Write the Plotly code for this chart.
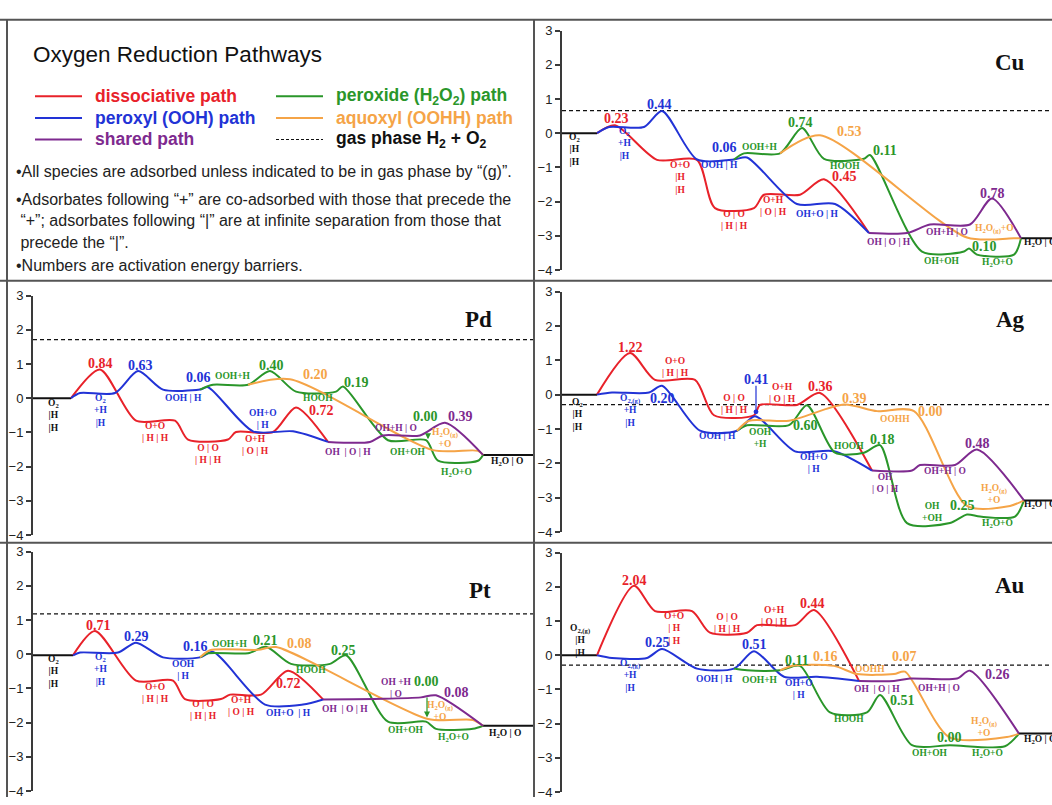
import plotly.graph_objects as go

W, H = 1052, 805

COL = dict(r="#e8222a", b="#2233d6", g="#2a962a", o="#f5a447", p="#7e2a8f", k="#111111")

# ---------------- data: [reaction coordinate, energy (eV)] ----------------
# Cu
CU_START = [[0, 0], [35, 0]]
CU_RED = [[35, 0], [53, 0.23], [95, -0.78], [135, -0.78], [153, -2.19], [192, -2.19],
          [202, -1.80], [238, -1.80], [262, -1.35], [307, -2.92]]
CU_BLUE = [[35, 0], [47, 0.18], [82, 0.18], [100, 0.65], [135, -0.77], [172, -0.77],
           [185, -0.71], [235, -2.07], [273, -2.07], [307, -2.92]]
CU_GREEN = [[172, -0.77], [182, -0.59], [218, -0.59], [240, 0.15], [262, -0.75], [302, -0.75],
            [308, -0.64], [360, -3.46], [402, -3.46], [407, -3.37], [415, -3.55], [452, -3.55],
            [459, -3.07]]
CU_ORANGE = [[218, -0.59], [258, -0.06], [405, -3.05], [452, -3.07], [459, -3.07]]
CU_PURPLE = [[307, -2.92], [345, -2.92], [368, -2.67], [408, -2.67], [430, -1.91], [459, -3.07]]
CU_END = [[459, -3.07], [490, -3.07]]
CU_GAS = 0.66

# Pd
PD_START = [[0, 0], [38, 0]]
PD_RED = [[38, 0], [67, 0.84], [103, -0.66], [142, -0.66], [155, -1.21], [195, -1.21],
          [203, -0.99], [240, -0.99], [263, -0.27], [295, -1.28]]
PD_BLUE = [[38, 0], [47, 0.15], [82, 0.15], [105, 0.79], [130, 0.25], [167, 0.25],
           [175, 0.32], [220, -0.97], [260, -0.97], [295, -1.28]]
PD_GREEN = [[167, 0.25], [180, 0.39], [215, 0.39], [237, 0.79], [263, 0.19], [303, 0.19],
            [310, 0.34], [355, -1.23], [393, -1.23], [405, -1.83], [445, -1.83], [450, -1.66]]
PD_ORANGE = [[215, 0.39], [257, 0.55], [400, -1.52], [445, -1.54], [450, -1.66]]
PD_PURPLE = [[295, -1.28], [337, -1.28], [350, -1.09], [387, -1.09], [412, -0.72], [450, -1.66]]
PD_END = [[450, -1.66], [501, -1.66]]
PD_GAS = 1.71

# Ag
AG_START = [[0, 0], [35, 0]]
AG_RED = [[35, 0], [68, 1.21], [93, 0.43], [133, 0.43], [152, -0.60], [192, -0.60],
          [198, -0.30], [235, -0.30], [258, 0.05], [310, -2.21]]
AG_BLUE = [[35, 0], [50, 0.06], [87, 0.06], [100, 0.26], [138, -1.05], [175, -1.05],
           [193, -0.63], [233, -1.65], [272, -1.65], [310, -2.21]]
AG_GREEN = [[175, -1.05], [185, -0.89], [227, -0.89], [245, -0.31], [273, -1.69], [302, -1.69],
            [318, -1.47], [345, -3.74], [388, -3.74], [405, -3.49], [418, -3.55], [453, -3.55],
            [462, -3.08]]
AG_ORANGE = [[175, -1.05], [187, -0.76], [227, -0.76], [282, -0.29], [315, -0.48], [352, -0.48],
             [405, -3.24], [448, -3.24], [462, -3.08]]
AG_PURPLE = [[310, -2.21], [350, -2.21], [358, -2.05], [393, -2.05], [415, -1.60], [462, -3.08]]
AG_END = [[462, -3.08], [490, -3.08]]
AG_GAS = -0.29

# Pt
PT_START = [[0, -0.03], [40, -0.03]]
PT_RED = [[40, -0.03], [62, 0.68], [103, -0.77], [140, -0.77], [152, -1.31], [188, -1.31],
          [197, -1.18], [228, -1.18], [255, -0.48], [290, -1.32]]
PT_BLUE = [[40, -0.03], [47, 0.05], [85, 0.05], [103, 0.34], [130, -0.09], [167, -0.09],
           [180, 0.07], [232, -1.47], [270, -1.47], [290, -1.32]]
PT_GREEN = [[167, -0.09], [175, 0.03], [215, 0.03], [233, 0.22], [258, -0.28], [297, -0.28],
            [313, -0.03], [355, -1.97], [393, -1.97], [403, -2.18], [440, -2.18], [450, -2.09]]
PT_ORANGE = [[167, -0.09], [177, 0.12], [225, 0.13], [243, 0.21], [395, -1.89], [440, -1.92],
             [450, -2.09]]
PT_PURPLE = [[290, -1.32], [350, -1.30], [388, -1.26], [403, -1.20], [450, -2.09]]
PT_END = [[450, -2.09], [501, -2.09]]
PT_GAS = 1.18

# Au
AU_START = [[0, 0], [35, 0]]
AU_RED = [[35, 0], [72, 2.03], [93, 1.29], [130, 1.29], [148, 0.66], [185, 0.66],
          [195, 0.88], [233, 0.88], [252, 1.32], [297, -0.75]]
AU_BLUE = [[35, 0], [50, -0.08], [85, -0.08], [100, 0.18], [135, -0.39], [172, -0.39],
           [192, 0.12], [222, -0.63], [255, -0.63], [297, -0.75]]
AU_GREEN = [[172, -0.39], [185, -0.44], [218, -0.44], [238, -0.31], [268, -1.67], [305, -1.67],
            [318, -1.16], [350, -2.63], [388, -2.63], [443, -2.66], [457, -2.29]]
AU_ORANGE = [[218, -0.44], [232, -0.30], [272, -0.31], [295, -0.55], [332, -0.55], [343, -0.48],
             [387, -2.39], [445, -2.39], [457, -2.29]]
AU_PURPLE = [[297, -0.75], [332, -0.75], [348, -0.68], [395, -0.68], [408, -0.45], [457, -2.29]]
AU_END = [[457, -2.29], [490, -2.29]]
AU_GAS = -0.29

# ---------------- labels: [text, x, energy, colour] ----------------
S2 = "O<sub>2</sub>"
S2G = "O<sub>2,(g)</sub>"
H2O = "H<sub>2</sub>O"
H2OG = "H<sub>2</sub>O<sub>(g)</sub>"

CU_LABELS = [
    [S2 + "<br>|H<br>|H", 12, -0.47, "k"], ["0.23", 54, 0.42, "r"],
    [S2 + "<br>+H<br>|H", 62, -0.30, "b"], ["0.44", 97, 0.84, "b"],
    ["O+O<br>|H<br>|H", 118, -1.30, "r"], ["OOH | H", 157, -0.93, "b"],
    ["0.06", 162, -0.42, "b"], ["OOH+H", 198, -0.40, "g"], ["0.74", 238, 0.32, "g"],
    ["0.53", 287, 0.04, "o"], ["HOOH", 283, -0.95, "g"], ["0.11", 323, -0.52, "g"],
    ["O | O<br>| H | H", 172, -2.55, "r"], ["O+H<br>| O | H", 211, -2.13, "r"],
    ["0.45", 282, -1.28, "r"], ["OH+O | H", 255, -2.35, "b"], ["OH | O | H", 327, -3.17, "p"],
    ["OH+H | O", 385, -2.90, "p"], [H2OG + "+O", 432, -2.80, "o"], ["0.78", 430, -1.76, "p"],
    ["0.10", 422, -3.30, "g"], ["OH+OH", 380, -3.74, "g"], [H2O + "+O", 435, -3.78, "g"],
    [H2O + " | O", 478, -3.20, "k"],
]
PD_LABELS = [
    [S2 + "<br>|H<br>|H", 20, -0.52, "k"], ["0.84", 67, 1.01, "r"],
    [S2 + "<br>+H<br>|H", 67, -0.37, "b"], ["0.63", 107, 0.96, "b"], ["0.06", 165, 0.60, "b"],
    ["OOH | H", 150, 0.00, "b"], ["OOH+H", 200, 0.65, "g"], ["0.40", 238, 0.96, "g"],
    ["0.20", 282, 0.70, "o"], ["0.19", 323, 0.46, "g"], ["HOOH", 285, 0.00, "g"],
    ["O+O<br>| H | H", 122, -1.00, "r"], ["O | O<br>| H | H", 175, -1.62, "r"],
    ["O+H<br>| O | H", 222, -1.38, "r"], ["OH+O<br>| H", 230, -0.62, "b"],
    ["0.72", 288, -0.37, "r"], ["OH  | O | H", 315, -1.57, "p"], ["OH+H | O", 363, -0.87, "p"],
    ["0.00", 392, -0.53, "g"], ["0.39", 427, -0.53, "p"], [H2OG + "<br>+O", 412, -1.17, "o"],
    ["OH+OH", 375, -1.57, "g"], [H2O + "+O", 423, -2.16, "g"], [H2O + " | O", 474, -1.85, "k"],
]
AG_LABELS = [
    [S2 + "<br>|H<br>|H", 15, -0.58, "k"], ["1.22", 68, 1.38, "r"],
    ["O+O<br>| H | H", 113, 0.80, "r"], [S2G + "<br>+H<br>|H", 68, -0.45, "b"],
    ["0.20", 100, -0.12, "b"], ["OOH | H", 155, -1.19, "b"], ["O | O<br>| H | H", 172, -0.27, "r"],
    ["0.41", 194, 0.45, "b"], ["O+H<br>| O | H", 220, 0.04, "r"], ["0.36", 258, 0.24, "r"],
    ["0.39", 292, -0.11, "o"], ["0.00", 368, -0.48, "o"], ["OOHH", 333, -0.71, "o"],
    ["OOH<br>+H", 198, -1.27, "g"], ["0.60", 243, -0.89, "g"], ["HOOH", 287, -1.50, "g"],
    ["0.18", 320, -1.30, "g"], ["OH+O<br>| H", 252, -2.00, "b"], ["OH<br>| O | H", 323, -2.57, "p"],
    ["OH+H | O", 383, -2.22, "p"], ["0.48", 415, -1.43, "p"], [H2OG + "<br>+O", 432, -2.90, "o"],
    ["OH<br>+OH", 370, -3.43, "g"], ["0.25", 400, -3.24, "g"], [H2O + "+O", 435, -3.76, "g"],
    [H2O + " | O", 478, -3.19, "k"],
]
PT_LABELS = [
    [S2 + "<br>|H<br>|H", 20, -0.50, "k"], ["0.71", 65, 0.83, "r"],
    [S2 + "<br>+H<br>|H", 67, -0.45, "b"], ["0.29", 103, 0.52, "b"], ["OOH<br>| H", 150, -0.47, "b"],
    ["0.16", 162, 0.23, "b"], ["OOH+H", 197, 0.30, "g"], ["0.21", 232, 0.39, "g"],
    ["0.08", 266, 0.32, "o"], ["HOOH", 278, -0.47, "g"], ["0.25", 310, 0.10, "g"],
    ["O+O<br>| H | H", 122, -1.13, "r"], ["O | O<br>| H | H", 170, -1.64, "r"],
    ["O+H<br>| O | H", 208, -1.52, "r"], ["0.72", 255, -0.84, "r"], ["OH+O  | H", 255, -1.71, "b"],
    ["OH  | O | H", 312, -1.60, "p"], ["OH +H<br>| O", 363, -1.00, "p"], ["0.00", 393, -0.79, "g"],
    ["0.08", 423, -1.11, "p"], [H2OG + "<br>+O", 407, -1.65, "o"], ["OH+OH", 373, -2.21, "g"],
    [H2O + "+O", 420, -2.42, "g"], [H2O + " | O", 472, -2.33, "k"],
]
AU_LABELS = [
    [S2G + "<br>|H<br>|H", 18, 0.43, "k"], ["2.04", 72, 2.19, "r"],
    ["O+O<br>| H<br>| H", 112, 0.77, "r"], ["0.25", 95, 0.38, "b"],
    [S2G + "<br>+H<br>|H", 68, -0.60, "b"], ["O | O<br>| H | H", 165, 0.95, "r"],
    ["O+H<br>| O | H", 212, 1.15, "r"], ["0.44", 250, 1.50, "r"], ["0.51", 192, 0.31, "b"],
    ["OOH | H", 152, -0.68, "b"], ["OOH+H", 198, -0.73, "g"], ["0.11", 235, -0.15, "g"],
    ["0.16", 263, -0.03, "o"], ["0.07", 342, -0.03, "o"], ["OOHH", 308, -0.41, "o"],
    ["OH+O<br>| H", 237, -1.00, "b"], ["OH  | O | H", 315, -0.98, "p"], ["OH+H | O", 377, -0.96, "p"],
    ["0.26", 435, -0.55, "p"], ["0.51", 340, -1.32, "g"], ["HOOH", 287, -1.85, "g"],
    [H2OG + "<br>+O", 422, -2.10, "o"], ["0.00", 387, -2.39, "g"], ["OH+OH", 368, -2.85, "g"],
    [H2O + "+O", 425, -2.87, "g"], [H2O + " | O", 478, -2.47, "k"],
]

TITLES = {"Cu": [448, 2.06], "Pd": [445, 2.30], "Ag": [448, 2.19], "Pt": [447, 1.85], "Au": [448, 2.03]}

# pointer marks: [x, E_tail, E_head, colour, head style]
PD_POINTERS = [[395, -1.02, -1.20, "g", 2]]
AG_POINTERS = [[194, 0.30, -0.50, "b", 6]]
PT_POINTERS = [[394, -1.22, -1.85, "g", 2]]

PANELS = [
    # name, axis index, px x0, px x1, px ytop, px ybot, xmax, data
    ("Cu", 1, 562, 1052, 24, 268, 490,
     dict(start=CU_START, r=CU_RED, b=CU_BLUE, g=CU_GREEN, o=CU_ORANGE, p=CU_PURPLE, end=CU_END,
          gas=CU_GAS, labels=CU_LABELS, pointers=[])),
    ("Pd", 2, 33, 534, 294, 538, 501,
     dict(start=PD_START, r=PD_RED, b=PD_BLUE, g=PD_GREEN, o=PD_ORANGE, p=PD_PURPLE, end=PD_END,
          gas=PD_GAS, labels=PD_LABELS, pointers=PD_POINTERS)),
    ("Ag", 3, 562, 1052, 290, 535, 490,
     dict(start=AG_START, r=AG_RED, b=AG_BLUE, g=AG_GREEN, o=AG_ORANGE, p=AG_PURPLE, end=AG_END,
          gas=AG_GAS, labels=AG_LABELS, pointers=AG_POINTERS)),
    ("Pt", 4, 33, 534, 555, 799, 501,
     dict(start=PT_START, r=PT_RED, b=PT_BLUE, g=PT_GREEN, o=PT_ORANGE, p=PT_PURPLE, end=PT_END,
          gas=PT_GAS, labels=PT_LABELS, pointers=PT_POINTERS)),
    ("Au", 5, 562, 1052, 556, 800, 490,
     dict(start=AU_START, r=AU_RED, b=AU_BLUE, g=AU_GREEN, o=AU_ORANGE, p=AU_PURPLE, end=AU_END,
          gas=AU_GAS, labels=AU_LABELS, pointers=[])),
]

SERIF = "Liberation Serif, Times New Roman, serif"
SANS = "Liberation Sans, Arial, sans-serif"


def px(xp):
    return xp / W


def py(yp):
    return 1 - yp / H


fig = go.Figure()
annotations = []
shapes = []
layout_axes = {}

for name, i, x0, x1, yt, yb, xmax, d in PANELS:
    sfx = "" if i == 1 else str(i)
    xa, ya = "x" + sfx, "y" + sfx
    layout_axes["xaxis" + sfx] = dict(domain=[px(x0), px(x1)], range=[0, xmax], visible=False,
                                      anchor=ya, fixedrange=True)
    layout_axes["yaxis" + sfx] = dict(domain=[py(yb), py(yt)], range=[-4, 3], anchor=xa,
                                      tickvals=[-4, -3, -2, -1, 0, 1, 2, 3],
                                      showline=True, linewidth=2, linecolor="#3a3a3a",
                                      ticks="outside", ticklen=5, tickwidth=1.5, tickcolor="#3a3a3a",
                                      showgrid=False, zeroline=False,
                                      tickfont=dict(family=SANS, size=13, color="#222"),
                                      fixedrange=True)
    # gas-phase reference
    fig.add_trace(go.Scatter(x=[0, xmax], y=[d["gas"], d["gas"]], mode="lines",
                             line=dict(color="#111", width=1.3, dash="4px,3px"),
                             xaxis=xa, yaxis=ya, hoverinfo="skip", showlegend=False))
    for key in ["start", "end"]:
        pts = d[key]
        fig.add_trace(go.Scatter(x=[p[0] for p in pts], y=[p[1] for p in pts], mode="lines",
                                 line=dict(color=COL["k"], width=2),
                                 xaxis=xa, yaxis=ya, hoverinfo="skip", showlegend=False))
    for key in ["r", "b", "g", "o", "p"]:
        pts = d[key]
        fig.add_trace(go.Scatter(x=[p[0] for p in pts], y=[p[1] for p in pts], mode="lines",
                                 line=dict(color=COL[key], width=2, shape="spline", smoothing=0.75),
                                 xaxis=xa, yaxis=ya, hoverinfo="skip", showlegend=False))
    for text, lx, le, c in d["labels"]:
        big = len(text) == 4 and text[1] == "." and text[0].isdigit()
        annotations.append(dict(x=lx, y=le, xref=xa, yref=ya, text="<b>" + text + "</b>",
                                showarrow=False, xanchor="center", yanchor="middle",
                                font=dict(family=SERIF, size=14 if big else 9.5, color=COL[c])))
    for x, et, eh, c, head in d["pointers"]:
        annotations.append(dict(x=x, y=eh, ax=x, ay=et, xref=xa, yref=ya, axref=xa, ayref=ya,
                                text="", showarrow=True, arrowhead=head, arrowsize=1,
                                arrowwidth=1.2, arrowcolor=COL[c]))
    tx, te = TITLES[name]
    annotations.append(dict(x=tx, y=te, xref=xa, yref=ya, text="<b>" + name + "</b>",
                            showarrow=False, xanchor="center", yanchor="middle",
                            font=dict(family=SERIF, size=23, color="#111")))

# ---------------- panel borders ----------------
BORDER = dict(color="#555", width=2)
for (xa0, ya0, xa1, ya1) in [(0, 13, W, 13), (0, 279, W, 279), (0, 546, W, 546),
                             (534, 13, 534, H), (7, 13, 7, H)]:
    shapes.append(dict(type="line", xref="paper", yref="paper", x0=px(xa0), y0=py(ya0),
                       x1=px(xa1), y1=py(ya1), line=BORDER))

# ---------------- legend / notes panel ----------------
annotations.append(dict(x=px(31), y=py(48), xref="paper", yref="paper", showarrow=False,
                        xanchor="left", yanchor="middle", text="Oxygen Reduction Pathways",
                        font=dict(family=SANS, size=22.5, color="#111")))

LEGEND_ITEMS = [
    ["dissociative path", "r", 35, 91, "solid"],
    ["peroxyl (OOH) path", "b", 35, 113, "solid"],
    ["shared path", "p", 35, 135, "solid"],
    ["peroxide (H<sub>2</sub>O<sub>2</sub>) path", "g", 276, 91, "solid"],
    ["aquoxyl (OOHH) path", "o", 276, 113, "solid"],
    ["gas phase H<sub>2</sub> + O<sub>2</sub>", "k", 276, 135, "dash"],
]
for text, c, lx, ly, dash in LEGEND_ITEMS:
    shapes.append(dict(type="line", xref="paper", yref="paper", x0=px(lx), x1=px(lx + 47),
                       y0=py(ly), y1=py(ly),
                       line=dict(color=COL[c], width=2 if dash == "solid" else 1.2,
                                 dash="solid" if dash == "solid" else "3px,2px")))
    annotations.append(dict(x=px(lx + 58), y=py(ly), xref="paper", yref="paper", showarrow=False,
                            xanchor="left", yanchor="middle", text="<b>" + text + "</b>",
                            font=dict(family=SANS, size=17.5, color=COL[c])))

NOTES = [
    ["•All species are adsorbed unless indicated to be in gas phase by “(g)”.", 14, 168],
    ["•Adsorbates following “+” are co-adsorbed with those that precede the", 14, 196],
    [" “+”; adsorbates following “|” are at infinite separation from those that", 14, 218],
    [" precede the “|”.", 14, 240],
    ["•Numbers are activation energy barriers.", 14, 263],
]
for text, nx, ny in NOTES:
    annotations.append(dict(x=px(nx), y=py(ny), xref="paper", yref="paper", showarrow=False,
                            xanchor="left", yanchor="middle", text=text,
                            font=dict(family=SANS, size=16, color="#222")))

fig.update_layout(width=W, height=H, margin=dict(l=0, r=0, t=0, b=0),
                  paper_bgcolor="white", plot_bgcolor="white", showlegend=False,
                  annotations=annotations, shapes=shapes, **layout_axes)

fig.write_html("out.html")
